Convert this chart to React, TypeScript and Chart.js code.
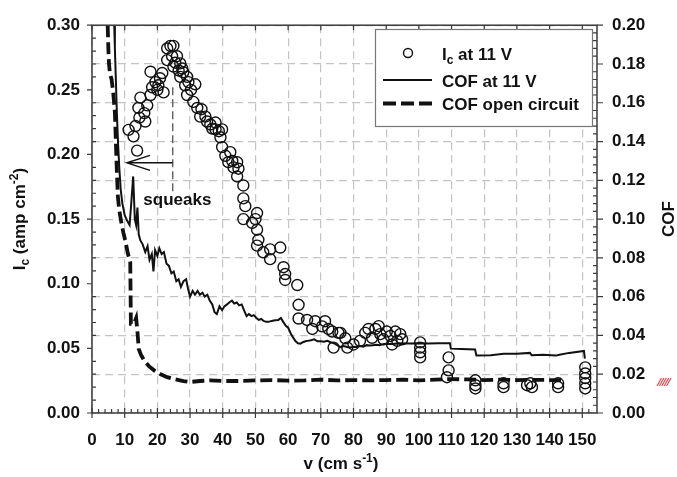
import { useEffect, useRef } from "react";
import { Chart, registerables } from "chart.js";

Chart.register(...registerables);

// Current density at 11 V: sliding speed (cm/s) and Ic (amp/cm2)
const icSpeed = [
  11.2, 12.7, 13.8, 13.3, 14.5, 14.2, 14.8, 16.0, 16.3, 16.9, 17.9, 18.4, 17.9, 19.4, 20.0, 20.3,
  21.9, 21.5, 20.8, 23.0, 23.0, 24.0, 24.9, 24.9, 24.5, 26.0, 25.5, 26.5, 27.0, 27.6, 27.9, 27.0,
  29.1, 28.5, 29.5, 29.1, 30.3, 31.6, 31.0, 32.2, 33.5, 33.1, 34.7, 35.2, 36.2, 36.8, 37.8, 38.8,
  39.8, 39.3, 37.8, 39.8, 40.8, 42.3, 42.9, 41.7, 44.4, 44.8, 43.3, 44.4, 46.3, 46.3, 46.9, 46.3,
  50.5, 50.0, 50.5, 49.0, 50.9, 50.5, 52.4, 54.5, 54.5, 57.6, 58.6, 59.1, 59.1, 62.8, 63.2, 63.2,
  65.8, 67.4, 68.3, 70.4, 71.3, 72.3, 73.5, 73.9, 75.4, 76.0, 77.5, 78.1, 80.0, 82.0, 83.6, 84.6,
  85.7, 86.7, 87.7, 88.2, 89.2, 90.2, 91.3, 91.8, 92.8, 93.4, 94.3, 94.9, 100.4, 100.4, 100.4, 100.4,
  109.1, 109.1, 108.6, 117.3, 117.3, 117.3, 125.9, 125.9, 134.1, 133.1, 134.6, 142.6, 142.6, 150.9,
  150.9, 150.9, 150.9, 150.9,
];
const icValue = [
  0.219, 0.214, 0.203, 0.222, 0.2285, 0.236, 0.244, 0.232, 0.2255, 0.238, 0.246, 0.252, 0.264, 0.256, 0.25, 0.2535,
  0.248, 0.263, 0.259, 0.273, 0.282, 0.284, 0.284, 0.268, 0.276, 0.276, 0.271, 0.265, 0.2705, 0.2665, 0.2636, 0.26,
  0.26, 0.2535, 0.256, 0.246, 0.25, 0.2543, 0.2407, 0.236, 0.235, 0.2293, 0.2293, 0.2255, 0.2232, 0.22, 0.2247, 0.218,
  0.2194, 0.2133, 0.2194, 0.2057, 0.199, 0.2018, 0.195, 0.194, 0.194, 0.189, 0.19, 0.183, 0.176, 0.166, 0.16, 0.15,
  0.1547, 0.15, 0.1418, 0.147, 0.134, 0.1295, 0.1243, 0.1266, 0.119, 0.128, 0.1128, 0.1075, 0.1029, 0.099, 0.0837, 0.0731,
  0.072, 0.065, 0.071, 0.067, 0.071, 0.065, 0.063, 0.0506, 0.062, 0.062, 0.0578, 0.0506, 0.053, 0.0558, 0.062, 0.065,
  0.0582, 0.065, 0.0672, 0.061, 0.057, 0.063, 0.0596, 0.053, 0.063, 0.0558, 0.061, 0.057, 0.0546, 0.0506, 0.047, 0.043,
  0.043, 0.033, 0.0277, 0.0253, 0.0215, 0.019, 0.023, 0.02, 0.023, 0.0215, 0.02, 0.023, 0.02, 0.0353,
  0.0306, 0.027, 0.023, 0.019,
];

// Friction coefficient with 11 V applied
const cofSpeed = [
  6.8, 7.0, 7.3, 7.6, 8.0, 8.4, 8.8, 9.3, 10.0, 10.8, 11.5, 12.0, 12.6, 13.1, 13.5, 13.9, 14.3, 14.8, 15.5,
  16.3, 17.0, 17.6, 18.3, 18.8, 19.3, 20.0, 20.6, 21.3, 22.0, 22.8, 23.5, 24.3, 25.0, 25.8, 26.5, 27.2, 28.0,
  28.8, 29.4, 30.0, 30.8, 31.5, 32.3, 33.0, 33.8, 34.5, 35.3, 36.0, 36.8, 37.5, 38.2, 39.0, 39.8, 40.5, 41.3,
  42.0, 42.8, 43.5, 44.3, 45.0, 45.8, 46.5, 47.3, 48.0, 48.8, 49.5, 50.3, 51.0, 51.8, 52.5, 53.3, 54.0, 55.0,
  56.0, 57.0, 57.8, 58.5, 59.3, 60.0, 60.8, 61.5, 62.3, 63.0, 63.8, 64.5, 65.3, 66.0, 67.0, 68.0, 69.0, 70.0,
  71.0, 72.0, 73.0, 74.0, 75.0, 76.0, 77.0, 78.0, 79.0, 80.0, 81.0, 82.0, 83.0, 84.0, 85.0, 86.0, 87.0, 88.0,
  89.0, 90.0, 92.0, 94.0, 97.0, 100.0, 103.0, 106.0, 109.5, 109.8, 113.0, 117.2, 117.6, 122.0, 126.0, 130.0,
  134.0, 134.5, 138.0, 142.0, 143.0, 146.0, 150.5, 150.8,
];
const cofClosed = [
  0.2, 0.188, 0.172, 0.155, 0.138, 0.125, 0.115, 0.108, 0.102, 0.099, 0.097, 0.108, 0.122, 0.1, 0.097, 0.106, 0.092, 0.089, 0.087,
  0.083, 0.086, 0.079, 0.082, 0.073, 0.084, 0.081, 0.085, 0.082, 0.083, 0.077, 0.076, 0.072, 0.073, 0.068, 0.069, 0.065, 0.068,
  0.069, 0.064, 0.06, 0.063, 0.061, 0.063, 0.061, 0.062, 0.06, 0.061, 0.058, 0.056, 0.052, 0.051, 0.055, 0.053, 0.055, 0.056,
  0.057, 0.058, 0.0565, 0.057, 0.0555, 0.056, 0.053, 0.05, 0.051, 0.05, 0.0505, 0.049, 0.048, 0.0485, 0.0475, 0.047, 0.047, 0.0475,
  0.0478, 0.048, 0.049, 0.047, 0.045, 0.044, 0.041, 0.039, 0.037, 0.036, 0.0358, 0.0365, 0.037, 0.0372, 0.0375, 0.038, 0.037, 0.037,
  0.0368, 0.0372, 0.0365, 0.036, 0.035, 0.034, 0.0345, 0.034, 0.0338, 0.0342, 0.034, 0.0345, 0.0342, 0.035, 0.0348, 0.035, 0.0352, 0.035,
  0.0355, 0.0357, 0.0356, 0.036, 0.0358, 0.036, 0.0358, 0.036, 0.036, 0.0332, 0.033, 0.0328, 0.0297, 0.0298, 0.0306, 0.0305,
  0.031, 0.0298, 0.03, 0.0296, 0.03, 0.031, 0.032, 0.028,
];

// Friction coefficient, open circuit
const openSpeed = [
  4.8, 5.0, 5.2, 5.5, 6.0, 6.5, 7.0, 7.3, 7.6, 7.9, 8.3, 9.0, 9.6, 10.3, 11.0, 11.7, 11.9, 12.8, 13.5, 13.9,
  14.3, 15.0, 16.0, 17.5, 19.0, 21.0, 23.0, 25.0, 28.0, 30.0, 33.0, 36.0, 40.0, 45.0, 50.0, 55.0, 60.0, 65.0,
  70.0, 75.0, 80.0, 85.0, 90.0, 95.0, 100.0, 105.0, 110.0, 115.0, 120.0, 125.0, 130.0, 135.0, 140.0, 143.5,
];
const openCof = [
  0.2, 0.188, 0.18, 0.175, 0.172, 0.165, 0.155, 0.14, 0.125, 0.112, 0.105, 0.098, 0.093, 0.088, 0.082, 0.078, 0.046, 0.046, 0.049, 0.042,
  0.033, 0.03, 0.027, 0.024, 0.022, 0.02, 0.0185, 0.0175, 0.0165, 0.016, 0.0165, 0.0168, 0.0165, 0.0165, 0.0168, 0.017, 0.0167, 0.0168,
  0.0172, 0.0168, 0.017, 0.0168, 0.017, 0.0172, 0.0168, 0.0172, 0.0175, 0.0173, 0.017, 0.0172, 0.017, 0.0171, 0.017, 0.017,
];

// Axis ticks
const speedTicks = [0, 10, 20, 30, 40, 50, 60, 70, 80, 90, 100, 110, 120, 130, 140, 150];
const currentTicks = [0, 0.05, 0.1, 0.15, 0.2, 0.25, 0.3];
const cofTicks = [0, 0.02, 0.04, 0.06, 0.08, 0.1, 0.12, 0.14, 0.16, 0.18, 0.2];

// "squeaks" marker: dashed guide at this speed, arrow pointing back to lower speed
const squeakSpeed = 24.7;
const squeakArrowTip = 10.7;
const squeakArrowLevel = 0.1935;
const squeakGuideTop = 0.252;
const squeakGuideBottom = 0.17;
const squeakLabelSpeed = 15.7;
const squeakLabelLevel = 0.1646;

const FAMILY = '"Liberation Sans", Arial, Helvetica, sans-serif';
const INK = "#111";
const FRAME = "#3a3a3a";
const GRID = "#c4c4c4";

type Piece = { t: string; size: number; dy: number };

function drawRich(ctx: CanvasRenderingContext2D, pieces: Piece[], x: number, y: number, center: boolean) {
  let total = 0;
  for (const p of pieces) {
    ctx.font = `bold ${p.size}px ${FAMILY}`;
    total += ctx.measureText(p.t).width;
  }
  let cx = center ? x - total / 2 : x;
  for (const p of pieces) {
    ctx.font = `bold ${p.size}px ${FAMILY}`;
    ctx.fillText(p.t, cx, y + p.dy);
    cx += ctx.measureText(p.t).width;
  }
}

const decorations = {
  id: "decorations",
  afterDraw(chart: any) {
    const { ctx, chartArea: a, scales } = chart;
    const sx = scales.x;
    const sy = scales.y;
    const sy1 = scales.y1;
    ctx.save();

    // frame
    ctx.strokeStyle = FRAME;
    ctx.lineWidth = 1.5;
    ctx.setLineDash([]);
    ctx.strokeRect(a.left, a.top, a.right - a.left, a.bottom - a.top);

    // tick marks
    ctx.lineWidth = 1.2;
    ctx.beginPath();
    for (const v of speedTicks) {
      const px = sx.getPixelForValue(v);
      ctx.moveTo(px, a.bottom + 5);
      ctx.lineTo(px, a.bottom - 5);
      ctx.moveTo(px, a.top);
      ctx.lineTo(px, a.top + 5);
    }
    for (let i = 1; i < 77; i++) {
      if (i % 5 === 0) continue;
      const px = sx.getPixelForValue(i * 2);
      if (px > a.right - 1) break;
      ctx.moveTo(px, a.bottom);
      ctx.lineTo(px, a.bottom - 4);
    }
    for (const v of currentTicks) {
      const py = sy.getPixelForValue(v);
      ctx.moveTo(a.left - 5, py);
      ctx.lineTo(a.left, py);
    }
    for (let i = 1; i < 30; i++) {
      if (i % 5 === 0) continue;
      const py = sy.getPixelForValue(i * 0.01);
      ctx.moveTo(a.left, py);
      ctx.lineTo(a.left + 4, py);
    }
    for (const v of cofTicks) {
      const py = sy1.getPixelForValue(v);
      ctx.moveTo(a.right, py);
      ctx.lineTo(a.right + 6, py);
    }
    for (let i = 1; i < 50; i++) {
      if (i % 5 === 0) continue;
      const py = sy1.getPixelForValue(i * 0.004);
      ctx.moveTo(a.right - 4, py);
      ctx.lineTo(a.right, py);
    }
    ctx.stroke();

    // squeaks guide and arrow
    const gx = sx.getPixelForValue(squeakSpeed);
    ctx.strokeStyle = "#555";
    ctx.lineWidth = 1.3;
    ctx.setLineDash([8, 4]);
    ctx.beginPath();
    ctx.moveTo(gx, sy.getPixelForValue(squeakGuideTop));
    ctx.lineTo(gx, sy.getPixelForValue(squeakGuideBottom));
    ctx.stroke();
    ctx.setLineDash([]);
    const ay = sy.getPixelForValue(squeakArrowLevel);
    const tip = sx.getPixelForValue(squeakArrowTip);
    ctx.strokeStyle = INK;
    ctx.lineWidth = 1.5;
    ctx.beginPath();
    ctx.moveTo(gx, ay);
    ctx.lineTo(tip, ay);
    ctx.moveTo(tip + 23, ay - 7.5);
    ctx.lineTo(tip, ay);
    ctx.lineTo(tip + 23, ay + 7.5);
    ctx.stroke();
    ctx.fillStyle = INK;
    ctx.textAlign = "left";
    ctx.textBaseline = "middle";
    ctx.font = `bold 17px ${FAMILY}`;
    ctx.fillText("squeaks", sx.getPixelForValue(squeakLabelSpeed), sy.getPixelForValue(squeakLabelLevel));

    // legend
    const lx = 375.5, ly = 29.5, lw = 217, lh = 97;
    ctx.fillStyle = "#fff";
    ctx.fillRect(lx, ly, lw, lh);
    ctx.strokeStyle = "#777";
    ctx.lineWidth = 1.2;
    ctx.strokeRect(lx, ly, lw, lh);
    ctx.strokeStyle = INK;
    ctx.lineWidth = 1.4;
    ctx.beginPath();
    ctx.arc(408, 53, 4.5, 0, Math.PI * 2);
    ctx.stroke();
    ctx.lineWidth = 2;
    ctx.beginPath();
    ctx.moveTo(383, 80);
    ctx.lineTo(432, 80);
    ctx.stroke();
    ctx.lineWidth = 3.8;
    ctx.setLineDash([13, 5]);
    ctx.beginPath();
    ctx.moveTo(383, 103.5);
    ctx.lineTo(432, 103.5);
    ctx.stroke();
    ctx.setLineDash([]);
    ctx.fillStyle = INK;
    ctx.textBaseline = "alphabetic";
    drawRich(ctx, [
      { t: "I", size: 17, dy: 0 },
      { t: "c", size: 12, dy: 4 },
      { t: " at 11 V", size: 17, dy: 0 },
    ], 442, 60, false);
    drawRich(ctx, [{ t: "COF at 11 V", size: 17, dy: 0 }], 442, 86.5, false);
    drawRich(ctx, [{ t: "COF open circuit", size: 17, dy: 0 }], 442, 109.5, false);

    // axis titles
    const midY = (a.top + a.bottom) / 2;
    ctx.save();
    ctx.translate(25, midY);
    ctx.rotate(-Math.PI / 2);
    drawRich(ctx, [
      { t: "I", size: 17, dy: 0 },
      { t: "c", size: 12, dy: 4 },
      { t: " (amp cm", size: 17, dy: 0 },
      { t: "-2", size: 12, dy: -7 },
      { t: ")", size: 17, dy: 0 },
    ], 0, 0, true);
    ctx.restore();
    ctx.save();
    ctx.translate(674, midY);
    ctx.rotate(-Math.PI / 2);
    drawRich(ctx, [{ t: "COF", size: 17, dy: 0 }], 0, 0, true);
    ctx.restore();
    drawRich(ctx, [
      { t: "v (cm s", size: 17, dy: 0 },
      { t: "-1", size: 12, dy: -7 },
      { t: ")", size: 17, dy: 0 },
    ], 341, 469, true);

    // small red hatch beside the right axis
    ctx.strokeStyle = "#f0474f";
    ctx.lineWidth = 1.2;
    ctx.beginPath();
    for (let i = 0; i < 5; i++) {
      const hx = 657 + i * 2.4;
      ctx.moveTo(hx, 386);
      ctx.lineTo(hx + 4.5, 378);
    }
    ctx.stroke();

    ctx.restore();
  },
};

const tickFont = { family: FAMILY, size: 17, weight: "bold" as const };

export default function App() {
  const ref = useRef<HTMLCanvasElement | null>(null);

  useEffect(() => {
    if (!ref.current) return;
    const icPoints = icSpeed.map((x, i) => ({ x, y: icValue[i] }));
    const closedPoints = cofSpeed.map((x, i) => ({ x, y: cofClosed[i] }));
    const openPoints = openSpeed.map((x, i) => ({ x, y: openCof[i] }));

    const chart = new Chart(ref.current, {
      type: "scatter",
      data: {
        datasets: [
          {
            label: "Ic at 11 V",
            data: icPoints,
            yAxisID: "y",
            pointStyle: "circle",
            pointRadius: 5.5,
            pointBorderWidth: 1.4,
            borderColor: INK,
            backgroundColor: "rgba(0,0,0,0)",
            showLine: false,
          },
          {
            label: "COF at 11 V",
            data: closedPoints,
            yAxisID: "y1",
            showLine: true,
            borderColor: INK,
            borderWidth: 2,
            pointRadius: 0,
            tension: 0,
          },
          {
            label: "COF open circuit",
            data: openPoints,
            yAxisID: "y1",
            showLine: true,
            borderColor: INK,
            borderWidth: 3.8,
            borderDash: [12, 5],
            pointRadius: 0,
            tension: 0,
          },
        ],
      },
      options: {
        responsive: false,
        animation: false,
        devicePixelRatio: 1,
        layout: { padding: { top: 19, left: 0, right: 0, bottom: 0 } },
        plugins: { legend: { display: false }, tooltip: { enabled: false } },
        scales: {
          x: {
            type: "linear",
            min: 0,
            max: 154.5,
            afterBuildTicks: (s: any) => {
              s.ticks = speedTicks.map((value) => ({ value }));
            },
            afterFit: (s: any) => {
              s.height = 64;
            },
            grid: { color: GRID, lineWidth: 1.2, drawTicks: false },
            border: { display: false, dash: [8, 5] },
            ticks: { font: tickFont, color: INK, padding: 17, maxRotation: 0, autoSkip: false },
          },
          y: {
            type: "linear",
            position: "left",
            min: 0,
            max: 0.3,
            afterBuildTicks: (s: any) => {
              s.ticks = currentTicks.map((value) => ({ value }));
            },
            afterFit: (s: any) => {
              s.width = 92;
            },
            grid: { display: false, drawTicks: false },
            border: { display: false },
            ticks: {
              font: tickFont,
              color: INK,
              padding: 12,
              callback: (v: any) => Number(v).toFixed(2),
            },
          },
          y1: {
            type: "linear",
            position: "right",
            min: 0,
            max: 0.2,
            afterBuildTicks: (s: any) => {
              s.ticks = cofTicks.map((value) => ({ value }));
            },
            afterFit: (s: any) => {
              s.width = 80;
            },
            grid: { color: GRID, lineWidth: 1.2, drawTicks: false },
            border: { display: false, dash: [8, 5] },
            ticks: {
              font: tickFont,
              color: INK,
              padding: 15,
              callback: (v: any) => Number(v).toFixed(2),
            },
          },
        },
      },
      plugins: [decorations],
    });
    return () => chart.destroy();
  }, []);

  return (
    <div style={{ position: "fixed", left: 0, top: 0, width: 677, height: 477, background: "#fff" }}>
      <canvas ref={ref} width={677} height={477} style={{ width: 677, height: 477, display: "block" }} />
    </div>
  );
}
